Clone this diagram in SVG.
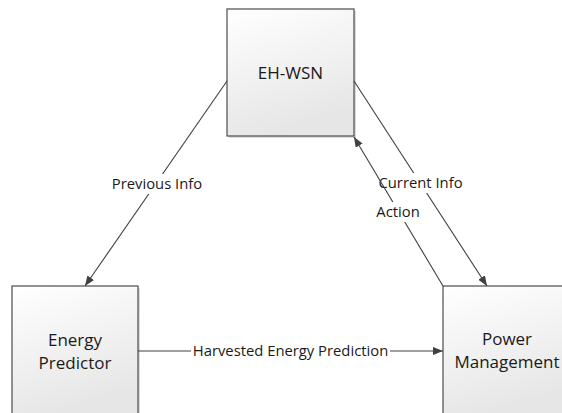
<svg xmlns="http://www.w3.org/2000/svg" width="562" height="413" viewBox="0 0 562 413">
<defs>
<linearGradient id="g" x1="0" y1="0" x2="0.3" y2="1">
<stop offset="0" stop-color="#ffffff"/>
<stop offset="1" stop-color="#e6e6e6"/>
</linearGradient>
<marker id="ah" viewBox="0 0 10 8" refX="10" refY="4" markerWidth="10" markerHeight="8" markerUnits="userSpaceOnUse" orient="auto">
<path d="M0,0 L10,4 L0,8 Z" fill="#404040"/>
</marker>
</defs>
<style>
.box{fill:url(#g);stroke:#595959;stroke-width:1.3}
.sh{fill:#dadada}
.ln{stroke:#404040;stroke-width:1.1;fill:none;marker-end:url(#ah)}
.nt{font-family:"Open Sans","Noto Sans",sans-serif;font-size:17px;fill:#1a1a1a;text-anchor:middle}
.lt{font-family:"Open Sans","Noto Sans",sans-serif;font-size:14.8px;fill:#1a1a1a;text-anchor:middle}
.bg{fill:#ffffff}
</style>
<rect width="562" height="413" fill="#ffffff"/>
<g id="eh-wsn">
<rect class="sh" x="229" y="11" width="127" height="127"/>
<rect class="box" x="227" y="9" width="127" height="127"/>
<text class="nt" x="290.5" y="79">EH-WSN</text>
</g>
<g id="energy-predictor">
<rect class="sh" x="14" y="288" width="126" height="130"/>
<rect class="box" x="12" y="286" width="126" height="130"/>
<text class="nt" x="75" y="346">Energy</text>
<text class="nt" x="75" y="369">Predictor</text>
</g>
<g id="power-management">
<rect class="sh" x="445" y="288" width="130" height="130"/>
<rect class="box" x="443" y="286" width="130" height="130"/>
<text class="nt" x="507" y="345">Power</text>
<text class="nt" x="507" y="368">Management</text>
</g>
<g id="connectors">
<line class="ln" x1="227" y1="81" x2="85" y2="286"/>
<rect class="bg" x="109" y="174" width="96" height="20"/>
<text class="lt" x="157" y="189">Previous Info</text>
<line class="ln" x1="138" y1="351" x2="443" y2="351"/>
<rect class="bg" x="191" y="341" width="199" height="20"/>
<text class="lt" x="290.5" y="356">Harvested Energy Prediction</text>
<line class="ln" x1="354" y1="81" x2="487" y2="286"/>
<rect class="bg" x="378" y="173" width="85" height="20"/>
<text class="lt" x="420.5" y="188">Current Info</text>
<line class="ln" x1="443" y1="286" x2="354" y2="137"/>
<rect class="bg" x="375" y="202" width="46" height="20"/>
<text class="lt" x="398" y="217">Action</text>
</g>
</svg>
